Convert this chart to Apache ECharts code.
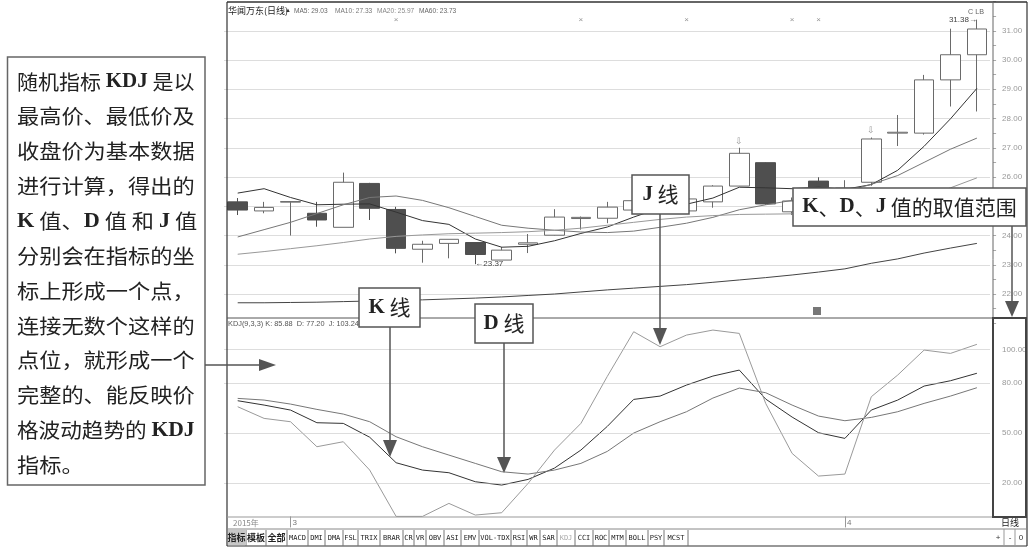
<!DOCTYPE html>
<html><head><meta charset="utf-8">
<script src="https://cdn.jsdelivr.net/npm/echarts@6/dist/echarts.min.js"></script>
<style>html,body{margin:0;padding:0;background:#fff}#c{width:1030px;height:548px}</style>
</head><body><div id="c"></div>
<script>
// ---------------- data ----------------
const categories = ['02-26','02-27','03-02','03-03','03-04','03-05','03-06','03-09','03-10','03-11','03-12','03-13','03-16','03-17','03-18','03-19','03-20','03-23','03-24','03-25','03-26','03-27','03-30','04-01','04-02','04-03','04-07','04-08','04-09'];
const monthLabels = ['','','3','','','','','','','','','','','','','','','','','','','','','4','','','','',''];
// [open, close, low, high]
const ohlc = [
  [25.15,24.87,24.70,25.28],[24.84,24.96,24.76,25.15],[25.14,25.16,24.00,25.17],[24.76,24.53,24.30,25.15],
  [24.28,25.82,24.28,26.15],[25.78,24.93,24.53,25.80],[24.89,23.56,23.39,24.98],[23.53,23.70,23.07,23.82],
  [23.73,23.87,23.22,23.87],[23.76,23.35,23.02,23.76],[23.16,23.50,23.16,23.61],[23.70,23.75,23.40,24.05],
  [24.01,24.63,24.00,24.90],[24.58,24.62,24.20,24.65],[24.59,24.97,24.42,25.15],[24.87,25.19,24.80,25.30],
  [25.00,25.30,24.90,25.45],[24.84,25.25,24.75,25.40],[25.15,25.69,24.95,25.72],[25.69,26.81,25.69,27.00],
  [26.49,25.08,25.05,26.50],[24.81,25.18,24.70,25.30],[25.86,25.50,25.30,25.99],[25.50,25.62,25.30,25.89],
  [25.82,27.30,25.70,27.35],[27.50,27.53,27.06,28.12],[27.50,29.32,27.45,29.49],[29.32,30.18,28.41,31.07],
  [30.18,31.06,28.24,31.38]
];
const ma5  = [25.45,25.60,25.30,25.05,25.07,25.08,24.80,24.51,24.38,23.88,23.60,23.63,23.82,24.07,24.29,24.63,24.94,25.07,25.28,25.65,25.63,25.60,25.65,25.58,25.74,26.23,27.05,27.99,29.03];
const ma10 = [23.95,24.20,24.45,24.75,25.05,25.30,25.35,25.20,24.95,24.65,24.35,24.25,24.18,24.12,24.10,24.15,24.28,24.42,24.62,24.88,25.05,25.20,25.35,25.50,25.75,26.05,26.50,26.95,27.33];
const ma20 = [23.36,23.45,23.55,23.65,23.76,23.88,23.97,24.02,24.06,24.08,24.10,24.13,24.18,24.25,24.35,24.45,24.55,24.63,24.68,24.72,24.73,24.74,24.76,24.80,24.89,25.02,25.31,25.63,25.97];
const ma60 = [21.70,21.70,21.71,21.72,21.74,21.76,21.78,21.80,21.83,21.86,21.90,21.95,22.00,22.07,22.14,22.20,22.26,22.32,22.40,22.48,22.56,22.65,22.75,22.86,23.05,23.20,23.40,23.57,23.73];
const kVals = [69.4,66.8,63.8,56.2,55.8,47.5,32.2,27.8,26.2,20.8,18.8,22.2,29.0,39.8,54.0,70.2,72.2,78.8,84.2,87.8,70.4,59.6,50.2,46.8,63.8,69.8,78.2,81.4,85.88];
const dVals = [70.8,69.8,67.4,64.2,61.4,56.8,47.8,41.8,36.8,31.8,26.8,25.4,27.8,31.8,39.0,50.0,56.8,62.8,71.0,77.0,74.2,66.8,60.2,57.4,59.4,62.8,67.8,72.2,77.20];
const jVals = [65.8,58.8,56.8,41.8,44.8,27.8,0,0,7.8,0.8,2.2,19.8,39.8,55.8,84.0,110.8,101.8,108.8,111.8,109.8,67.8,37.8,24.2,25.4,71.8,84.8,99.8,97.8,103.24];
const priceAxis = {min:21, max:32, interval:1, shownMin:22, shownMax:31};
const kdjTicks = [20,50,80,100];
const infoMarks = [6,13,17,21,22];
const infoLevel = 31.38;
const signalMarks = [19,24];
const lowIdx = 9, lowLabel = '23.37';
const highIdx = 28, highLabel = '31.38';
const tabs = ['指标','模板','全部','MACD','DMI','DMA','FSL','TRIX','BRAR','CR','VR','OBV','ASI','EMV','VOL-TDX','RSI','WR','SAR','KDJ','CCI','ROC','MTM','BOLL','PSY','MCST'];
const tabEdges = [227,246,266,287,308,325,343,358,380,403,414,426,444,461,479,511,527,540,557,575,593,609,626,648,664,688];

// ---------------- layout ----------------
const N = categories.length;
const BW = 26.4, GL = 224.5;
const SANS = 'Liberation Sans, "Noto Sans CJK SC", sans-serif';
const CJK = '"Noto Sans CJK SC", sans-serif';
const SERIF = '"Liberation Serif", "Noto Sans CJK SC", serif';
const PX = 29.25; // px per price unit
const Y31 = 30.75;

const G = [];
function ln(x1,y1,x2,y2,c,w,z){G.push({type:'line',silent:true,z:z||50,shape:{x1,y1,x2,y2},style:{stroke:c,lineWidth:w}});}
function rc(x,y,w,h,stroke,lw,fill,z){G.push({type:'rect',silent:true,z:z||50,shape:{x,y,width:w,height:h},style:{stroke:stroke,lineWidth:lw,fill:fill||'none'}});}
function tx(x,y,t,o){o=o||{};G.push({type:'text',silent:true,z:o.z||60,x,y,scaleX:o.sx||1,style:{text:t,fill:o.c||'#333',fontSize:o.fs||8,fontFamily:o.ff||SANS,fontWeight:o.fw||'normal',align:o.al||'left',verticalAlign:'middle',rich:o.rich}});}
function tri(pts,c,z){G.push({type:'polygon',silent:true,z:z||120,shape:{points:pts},style:{fill:c}});}

// frame
ln(227,2,1027,2,'#333',1.5);
ln(227,2,227,546,'#333',1.2);
ln(1027,2,1027,546,'#333',1.2);
ln(993,2,993,517,'#666',1);
ln(227,318,1027,318,'#555',1);
ln(227,517,1027,517,'#999',1);
ln(227,529,1027,529,'#888',1);
ln(227,546,1027,546,'#333',1.2);
rc(993,318,33,199,'#444',2,'none',55);
// date bar
tx(233,523,'2015年',{c:'#888',fs:8,ff:CJK});
tx(1010,523,'日线',{c:'#222',fs:9,ff:CJK,al:'center'});
ln(1004,529,1004,546,'#999',1); ln(1015,529,1015,546,'#999',1);
tx(998,538,'+',{c:'#333',fs:8,al:'center'}); tx(1010,538,'-',{c:'#333',fs:8,al:'center'}); tx(1021,538,'0',{c:'#333',fs:8,al:'center'});
// tabs
tabs.forEach((t,i)=>{
  const x0=tabEdges[i], x1=tabEdges[i+1];
  if(i===0) rc(x0+1,530,x1-x0-1,15,'none',0,'#c8c8c8',52);
  ln(x1,530,x1,546,'#777',1);
  const isCJK=/[\u4e00-\u9fff]/.test(t);
  tx((x0+x1)/2,538,t,{c: t==='KDJ' ? '#aaa':'#222',fs:isCJK?9:7,ff:isCJK?CJK:'"DejaVu Sans Mono", monospace',al:'center',fw:isCJK?'bold':'normal'});
});
// headers
tx(228,11,'华闻万东(日线)',{c:'#222',fs:9,ff:CJK});
tx(285,10,'▲',{c:'#333',fs:6});
tx(294,11,'MA5: '+ma5[N-1].toFixed(2),{c:'#666',fs:8,sx:0.82});
tx(335,11,'MA10: '+ma10[N-1].toFixed(2),{c:'#777',fs:8,sx:0.82});
tx(377,11,'MA20: '+ma20[N-1].toFixed(2),{c:'#888',fs:8,sx:0.82});
tx(419,11,'MA60: '+ma60[N-1].toFixed(2),{c:'#666',fs:8,sx:0.82});
tx(968,12,'C LB',{c:'#666',fs:8,sx:0.9});
tx(228,324,'KDJ(9,3,3) K: '+kVals[N-1].toFixed(2)+'  D: '+dVals[N-1].toFixed(2)+'  J: '+jVals[N-1].toFixed(2),{c:'#555',fs:8,sx:0.92});
rc(813,307,8,8,'none',0,'#777',52);

// annotation: left text box
rc(7.5,57,197.5,428,'#666',1.5,'#fff',110);
const richB = {b:{fontFamily:SERIF,fontWeight:'bold',fontSize:20,fill:'#222'}};
const leftLines = ['随机指标 {b|KDJ} 是以','最高价、最低价及','收盘价为基本数据','进行计算，得出的','{b|K} 值、{b|D} 值 和 {b|J} 值','分别会在指标的坐','标上形成一个点，','连接无数个这样的','点位，就形成一个','完整的、能反映价','格波动趋势的 {b|KDJ}','指标。'];
const leftScale = [1.05,1.11,1.11,1.11,1.11,1.11,1.11,1.11,1.11,1.11,1.08,1.11];
leftLines.forEach((t,i)=>tx(17,82+i*34.85,t,{c:'#222',fs:20,ff:CJK,sx:leftScale[i],z:130,rich:richB}));
ln(205,365,260,365,'#555',1.5,120);
tri([[259,359],[276,365],[259,371]],'#555');
const richB2 = {b:{fontFamily:SERIF,fontWeight:'bold',fontSize:21,fill:'#222'}};
// K line box
rc(359,288,61,39,'#555',1.5,'#fff',110);
tx(389.5,307.5,'{b|K} 线',{c:'#222',fs:21,ff:CJK,al:'center',z:130,rich:richB2});
ln(390,327,390,441,'#555',1.5,120); tri([[383,440],[397,440],[390,457]],'#555');
// D line box
rc(475,304,58,39,'#555',1.5,'#fff',110);
tx(504,323.5,'{b|D} 线',{c:'#222',fs:21,ff:CJK,al:'center',z:130,rich:richB2});
ln(504,343,504,458,'#555',1.5,120); tri([[497,457],[511,457],[504,473]],'#555');
// J line box
rc(632,175,57,39,'#555',1.5,'#fff',110);
tx(660.5,194.5,'{b|J} 线',{c:'#222',fs:21,ff:CJK,al:'center',z:130,rich:richB2});
ln(660,214,660,329,'#555',1.5,120); tri([[653,328],[667,328],[660,345]],'#555');
// range box
rc(793,188,233,38,'#555',1.5,'#fff',110);
tx(909.5,207,'{b|K}、{b|D}、{b|J} 值的取值范围',{c:'#222',fs:21,ff:CJK,al:'center',z:130,rich:richB2});
ln(1012,226,1012,302,'#555',1.5,120); tri([[1005,301],[1019,301],[1012,317]],'#555');

// ---------------- chart ----------------
const chart = echarts.init(document.getElementById('c'));
const gridW = BW*N;
const nLines = (priceAxis.max-priceAxis.min)/priceAxis.interval+1;
const splitColors = Array.from({length:nLines},(_,i)=>{const v=priceAxis.min+i*priceAxis.interval;return (v>=priceAxis.shownMin&&v<=priceAxis.shownMax)?'#bbb':'rgba(0,0,0,0)';});
const option = {
  animation:false,
  backgroundColor:'#fff',
  grid:[
    {left:GL, width:gridW, top:Y31-(priceAxis.max-31)*PX, height:(priceAxis.max-priceAxis.min)*PX},
    {left:GL, width:gridW, top:316.4, height:200}
  ],
  xAxis:[
    {gridIndex:0,type:'category',data:categories,boundaryGap:true,axisLine:{show:false},axisTick:{show:false},axisLabel:{show:false},splitLine:{show:false}},
    {gridIndex:1,type:'category',data:categories,boundaryGap:true,axisLine:{show:false},
     axisTick:{show:true,alignWithLabel:true,length:11,interval:(i)=>monthLabels[i]!=='',lineStyle:{color:'#999'}},
     axisLabel:{show:true,interval:0,align:'left',padding:[0,0,0,2],margin:2,fontSize:8,color:'#777',fontFamily:SANS,formatter:(v,i)=>monthLabels[i]},
     splitLine:{show:false}}
  ],
  yAxis:[
    {gridIndex:0,type:'value',position:'right',offset:3,min:priceAxis.min,max:priceAxis.max,interval:priceAxis.interval,
     axisLine:{show:false},axisTick:{show:true,length:3,lineStyle:{color:'#aaa'}},
     minorTick:{show:true,splitNumber:2,length:3,lineStyle:{color:'#aaa'}},
     axisLabel:{formatter:v=>(v>=priceAxis.shownMin&&v<=priceAxis.shownMax)?v.toFixed(2):'',fontSize:8,color:'#999',margin:9,fontFamily:SANS},
     splitLine:{show:true,lineStyle:{type:'dotted',color:splitColors,width:1}}},
    {gridIndex:1,type:'value',position:'right',offset:3,min:0,max:120,interval:10,
     axisLine:{show:false},axisTick:{show:false},
     axisLabel:{formatter:v=>kdjTicks.includes(v)?v.toFixed(2):'',fontSize:8,color:'#999',margin:9,fontFamily:SANS},
     splitLine:{show:false}}
  ],
  series:[
    {type:'candlestick',xAxisIndex:0,yAxisIndex:0,data:ohlc,barWidth:20,
     itemStyle:{color:'#fff',color0:'#4f4f4f',borderColor:'#6a6a6a',borderColor0:'#4f4f4f',borderWidth:1},
     markPoint:{symbol:'circle',symbolSize:0,silent:true,
       data:[
        {coord:[lowIdx,ohlc[lowIdx][2]],label:{show:true,position:'right',distance:0,formatter:'←'+lowLabel,fontSize:8,color:'#444',fontFamily:SANS}},
        {coord:[highIdx,ohlc[highIdx][3]],label:{show:true,position:'left',distance:0,formatter:highLabel+'→',fontSize:8,color:'#444',fontFamily:SANS}}
       ].concat(signalMarks.map(i=>({coord:[i,ohlc[i][3]],label:{show:true,position:'top',distance:2,formatter:'⇩',fontSize:9,color:'#999'}})))}},
    {type:'line',name:'MA5',data:ma5,showSymbol:false,lineStyle:{color:'#333',width:1}},
    {type:'line',name:'MA10',data:ma10,showSymbol:false,lineStyle:{color:'#777',width:1}},
    {type:'line',name:'MA20',data:ma20,showSymbol:false,lineStyle:{color:'#999',width:1}},
    {type:'line',name:'MA60',data:ma60,showSymbol:false,lineStyle:{color:'#444',width:1}},
    {type:'scatter',xAxisIndex:0,yAxisIndex:0,data:infoMarks.map(i=>[i,infoLevel]),symbolSize:1,itemStyle:{color:'rgba(0,0,0,0)'},silent:true,
     label:{show:true,formatter:'×',position:'inside',fontSize:8,color:'#777'}},
    {type:'line',name:'K',xAxisIndex:1,yAxisIndex:1,data:kVals,showSymbol:false,lineStyle:{color:'#333',width:1},
     markLine:{silent:true,symbol:['none','none'],label:{show:false},lineStyle:{type:'dotted',color:'#bbb',width:1},data:kdjTicks.map(v=>({yAxis:v}))}},
    {type:'line',name:'D',xAxisIndex:1,yAxisIndex:1,data:dVals,showSymbol:false,lineStyle:{color:'#777',width:1}},
    {type:'line',name:'J',xAxisIndex:1,yAxisIndex:1,data:jVals,showSymbol:false,lineStyle:{color:'#9a9a9a',width:1}}
  ],
  graphic:{elements:G}
};
chart.setOption(option);
</script></body></html>
